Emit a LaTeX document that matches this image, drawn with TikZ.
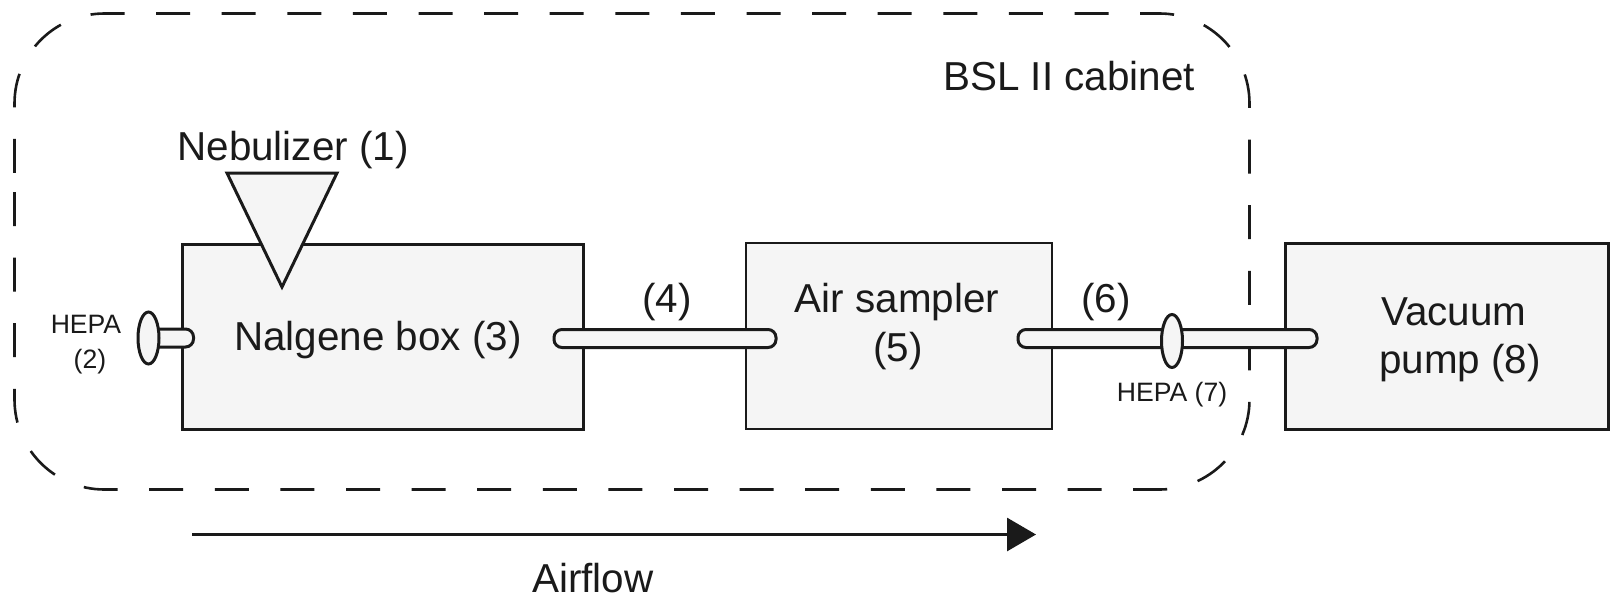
\documentclass[tikz,border=0pt]{standalone}
\usepackage{fontspec}
\setmainfont{Liberation Sans}
\usetikzlibrary{arrows.meta,shapes.geometric}
\definecolor{ink}{HTML}{1A1A1A}
\definecolor{pale}{HTML}{F5F5F5}
\tikzset{
  x=1pt,y=-1pt,
  boxnode/.style={draw=ink,fill=pale,line width=3pt,rectangle,inner sep=0pt,outer sep=0pt},
  tube/.style={draw=ink,fill=pale,line width=3pt,rectangle,rounded corners=8pt,inner sep=0pt,outer sep=0pt,minimum height=18pt},
  filter/.style={draw=ink,fill=pale,line width=3pt,ellipse,inner sep=0pt,outer sep=0pt},
  big/.style={font=\fontsize{40.4}{48}\selectfont,text=ink,anchor=base,inner sep=0pt},
  small/.style={font=\fontsize{26.6}{32}\selectfont,text=ink,anchor=base,inner sep=0pt},
  cabinet/.style={draw=ink,line width=2.6pt,dash pattern=on 34pt off 31.6pt},
}
\begin{document}
\begin{tikzpicture}
\useasboundingbox (0,0) rectangle (1610,598);
\fill[white] (0,0) rectangle (1610,598);
% cabinet
\draw[cabinet,rounded corners=90pt] (14.5,192) -- (14.5,489.5) -- (1249.5,489.5) -- (1249.5,13.5) -- (14.5,13.5) -- (14.5,192);
% boxes
\node[boxnode,minimum width=401pt,minimum height=185pt] (nalgene) at (382.5,336.5) {};
\node[boxnode,minimum width=306pt,minimum height=186pt,line width=2.4pt] (sampler) at (899,336) {};
\node[boxnode,minimum width=323pt,minimum height=186pt] (pump) at (1446.5,336) {};
% nebulizer
\coordinate (nl) at (227,173);
\coordinate (nr) at (337,173);
\coordinate (na) at (282,287);
\draw[draw=ink,fill=pale,line width=3pt,line join=miter] (nl) -- (nr) -- (na) -- cycle;
% tubes
\node[tube,minimum width=222pt] (tube4) at (665,338.5) {};
\node[tube,minimum width=299pt] (tube6) at (1167.5,338.5) {};
\node[tube,minimum width=45pt] (stub) at (171,338) {};
\node[filter,minimum width=21pt,minimum height=52pt] (hepa2) at (148.5,338) {};
\node[filter,minimum width=21pt,minimum height=53pt] (hepa7) at (1172,341) {};
% airflow arrow
\coordinate (afs) at (192,534.5);
\coordinate (afe) at (1036,534.5);
\draw[-{Triangle[length=29pt,width=33pt]},draw=ink,fill=ink,line width=3pt] (afs) -- (afe);
% labels
\node[big] (lbsl) at (1069,90) {BSL II cabinet};
\node[big] (lneb) at (293,160) {Nebulizer (1)};
\node[big] (lnal) at (378,350) {Nalgene box (3)};
\node[big] (l4) at (667,312) {(4)};
\node[big] (lair) at (897,312) {Air sampler};
\node[big] (l5) at (898,361) {(5)};
\node[big] (l6) at (1106,312) {(6)};
\node[big,anchor=base west] (lvac) at (1381,325) {Vacuum};
\node[big,anchor=base west] (lpump) at (1379,373) {pump (8)};
\node[big] (lflow) at (593,592.5) {Airflow};
\node[small] (lh2a) at (86,333) {HEPA};
\node[small] (lh2b) at (90,368) {(2)};
\node[small] (lh7) at (1172,401) {HEPA (7)};
\end{tikzpicture}
\end{document}
